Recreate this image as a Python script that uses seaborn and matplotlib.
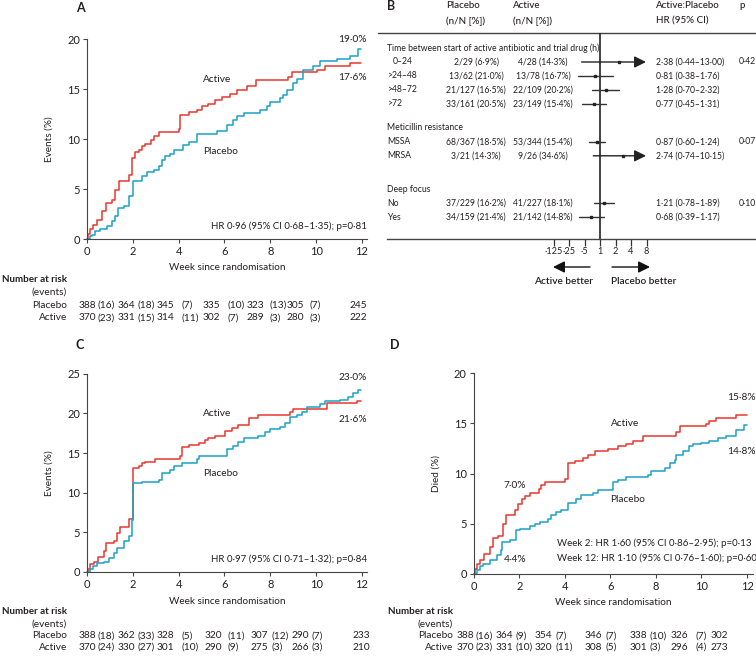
import matplotlib
matplotlib.use("Agg")
import matplotlib.pyplot as plt
from matplotlib import transforms
from matplotlib.ticker import NullLocator
import numpy as np
import pandas as pd
import seaborn as sns

# ---------------- data ----------------
weeks_ticks = [0, 2, 4, 6, 8, 10, 12]

# Panel A: events (%)
a_active_t = [0, 0.03, 0.12, 0.26, 0.44, 0.65, 0.84, 1.09, 1.23, 1.38, 1.82, 1.96, 2.11, 2.25, 2.40, 2.54,
              2.79, 2.93, 3.12, 4.0, 4.07, 4.43, 4.79, 5.01, 5.26, 5.59, 5.88, 6.25, 6.54, 6.97, 7.37,
              8.79, 8.93, 10.02, 10.39, 11.48, 11.94]
a_active_y = [0, 0.5, 1.0, 1.4, 1.9, 2.8, 3.6, 3.9, 4.9, 5.8, 6.4, 8.1, 8.7, 8.9, 9.3, 9.5,
              9.9, 10.3, 10.7, 11.0, 12.4, 12.7, 12.9, 13.3, 13.5, 13.9, 14.2, 14.5, 14.9, 15.3, 15.9,
              16.2, 16.7, 16.9, 17.3, 17.6, 17.6]
a_placebo_t = [0, 0.12, 0.22, 0.36, 0.58, 0.87, 1.09, 1.23, 1.34, 1.6, 1.82, 1.99, 2.40, 2.62, 2.91, 3.12,
               3.27, 3.41, 3.63, 3.78, 4.21, 4.43, 4.79, 5.67, 6.10, 6.39, 6.54, 6.83, 7.55, 7.85, 7.99,
               8.43, 8.57, 8.72, 9.0, 9.15, 9.44, 9.88, 10.17, 10.9, 11.48, 11.84, 11.94]
a_placebo_y = [0, 0.3, 0.4, 0.8, 1.0, 1.3, 1.8, 2.3, 3.1, 3.3, 4.3, 5.8, 6.3, 6.7, 6.9, 7.3,
               7.9, 8.3, 8.5, 8.9, 9.4, 9.7, 10.5, 10.8, 11.4, 11.9, 12.3, 12.6, 12.9, 13.3, 13.7,
               14.1, 14.4, 14.9, 15.6, 16.0, 16.9, 17.3, 17.8, 18.0, 18.3, 19.0, 19.0]

# Panel C: events (%)
c_active_t = [0, 0.03, 0.15, 0.32, 0.46, 0.73, 0.84, 1.16, 1.31, 1.42, 1.82, 2.0, 2.25, 2.40, 2.54, 2.98,
              4.07, 4.14, 4.43, 4.87, 5.16, 5.30, 5.59, 6.03, 6.32, 6.61, 7.05, 7.48, 8.86, 9.01, 10.46,
              11.77, 11.94]
c_active_y = [0, 0.4, 1.0, 1.3, 1.9, 2.7, 3.6, 3.9, 4.9, 5.7, 6.7, 13.1, 13.4, 13.7, 13.9, 14.3,
              14.6, 15.7, 16.0, 16.3, 16.7, 16.9, 17.2, 17.8, 18.1, 18.5, 19.4, 19.8, 20.2, 20.6, 21.3,
              21.6, 21.6]
c_placebo_t = [0, 0.15, 0.26, 0.44, 0.73, 0.94, 1.16, 1.31, 1.60, 1.82, 1.96, 2.0, 2.40, 3.12, 3.27, 3.63,
               3.78, 4.14, 4.79, 4.87, 6.10, 6.39, 6.61, 6.83, 7.48, 7.77, 7.99, 8.43, 8.64, 8.86, 9.15,
               9.37, 9.59, 10.17, 10.39, 11.04, 11.4, 11.62, 11.84, 11.94]
c_placebo_y = [0, 0.4, 0.8, 1.1, 1.3, 1.8, 2.4, 3.0, 3.9, 4.5, 6.6, 11.2, 11.4, 11.6, 12.5, 12.9,
               13.4, 13.8, 14.3, 14.6, 15.5, 15.9, 16.4, 16.9, 17.2, 17.6, 18.0, 18.3, 18.8, 19.5, 19.8,
               20.2, 20.8, 21.2, 21.5, 21.7, 22.1, 22.6, 23.0, 23.0]

# Panel D: died (%)
d_active_t = [0, 0.04, 0.15, 0.26, 0.45, 0.70, 0.85, 1.07, 1.29, 1.43, 1.83, 1.94, 2.12, 2.27, 2.46, 2.85,
              2.97, 3.11, 3.99, 4.14, 4.43, 4.80, 5.01, 5.31, 5.89, 6.33, 6.70, 6.99, 7.43, 8.89, 9.04,
              10.2, 10.35, 10.64, 11.52, 12.0]
d_active_y = [0, 0.5, 1.0, 1.4, 2.0, 2.7, 3.6, 3.8, 5.0, 5.9, 6.4, 7.0, 7.5, 7.8, 8.1, 8.5,
              8.9, 9.2, 9.5, 11.0, 11.2, 11.5, 11.8, 12.2, 12.4, 12.7, 12.9, 13.2, 13.7, 14.1, 14.7,
              14.9, 15.2, 15.5, 15.8, 15.8]
d_placebo_t = [0, 0.16, 0.26, 0.41, 0.70, 1.04, 1.18, 1.24, 1.58, 1.87, 2.02, 2.46, 2.68, 2.89, 3.26, 3.41,
               3.63, 3.85, 4.14, 4.50, 4.72, 5.23, 5.45, 6.11, 6.33, 6.70, 7.65, 7.79, 8.38, 8.60, 8.82,
               8.89, 9.18, 9.47, 9.62, 9.99, 10.35, 10.72, 11.08, 11.52, 11.89, 12.0]
d_placebo_y = [0, 0.4, 0.8, 1.0, 1.4, 1.9, 2.4, 3.2, 3.4, 4.4, 4.5, 4.8, 5.0, 5.2, 5.5, 5.9,
               6.2, 6.4, 7.1, 7.5, 7.9, 8.1, 8.4, 9.2, 9.4, 9.7, 9.9, 10.2, 10.5, 11.0, 11.3,
               11.8, 12.2, 12.7, 12.9, 13.0, 13.2, 13.5, 13.7, 14.3, 14.8, 14.8]

# numbers at risk (events)
a_risk_placebo = [388, 364, 345, 335, 323, 305, 245]
a_events_placebo = [16, 18, 7, 10, 13, 7]
a_risk_active = [370, 331, 314, 302, 289, 280, 222]
a_events_active = [23, 15, 11, 7, 3, 3]
c_risk_placebo = [388, 362, 328, 320, 307, 290, 233]
c_events_placebo = [18, 33, 5, 11, 12, 7]
c_risk_active = [370, 330, 301, 290, 275, 266, 210]
c_events_active = [24, 27, 10, 9, 3, 3]
d_risk_placebo = [388, 364, 354, 346, 338, 326, 302]
d_events_placebo = [16, 9, 7, 7, 10, 7]
d_risk_active = [370, 331, 320, 308, 301, 296, 273]
d_events_active = [23, 10, 11, 5, 3, 4]

# Panel B: forest plot
groups = ["Time between start of active antibiotic and trial drug (h)", "Meticillin resistance", "Deep focus"]
sub_labels = [["0\u201324", ">24\u201348", ">48\u201372", ">72"], ["MSSA", "MRSA"], ["No", "Yes"]]
p_values = ["0\u00b742", "0\u00b707", "0\u00b710"]
placebo_n = [2, 13, 21, 33, 68, 3, 37, 34]
placebo_N = [29, 62, 127, 161, 367, 21, 229, 159]
active_n = [4, 13, 22, 23, 53, 9, 41, 21]
active_N = [28, 78, 109, 149, 344, 26, 227, 142]
hr = [2.38, 0.81, 1.28, 0.77, 0.87, 2.74, 1.21, 0.68]
hr_lo = [0.44, 0.38, 0.70, 0.45, 0.60, 0.74, 0.78, 0.39]
hr_hi = [13.00, 1.76, 2.32, 1.31, 1.24, 10.15, 1.89, 1.17]
hr_ticks = [0.125, 0.25, 0.5, 1, 2, 4, 8]
hr_ticklabels = ["\u00b7125", "\u00b725", "\u00b75", "1", "2", "4", "8"]

# ---------------- style ----------------
sns.set_style("ticks")
plt.rcParams["font.family"] = ["Lato", "DejaVu Sans"]
RED = "#e8372f"
BLUE = "#1ba0c8"
INK = "#231f20"
FS = 7.0      # annotations / labels
FT = 7.3      # risk tables
FB = 6.2      # forest rows

W, H = 756, 658


def fx(px):
    return px / W


def fy(py):
    return 1 - py / H


def dot(v, nd=2):
    return f"{v:.{nd}f}".replace(".", "\u00b7")


fig = plt.figure(figsize=(7.56, 6.58), dpi=100)


def km_panel(left, end, x12, top, bottom, ymax, ystep, ylabel, ylab_px, act_t, act_y, pla_t, pla_y):
    ax = fig.add_axes([fx(left), fy(bottom), (end - left) / W, (bottom - top) / H])
    df = pd.concat([
        pd.DataFrame({"week": act_t, "pct": act_y, "arm": "Active"}),
        pd.DataFrame({"week": pla_t, "pct": pla_y, "arm": "Placebo"}),
    ])
    sns.lineplot(data=df, x="week", y="pct", hue="arm", palette={"Active": RED, "Placebo": BLUE},
                 estimator=None, drawstyle="steps-post", legend=False, lw=1.1, ax=ax, clip_on=False)
    ax.set_xlim(0, 12 * (end - left) / (x12 - left))
    ax.set_ylim(0, ymax)
    ax.set_xticks(weeks_ticks)
    ax.set_yticks(np.arange(0, ymax + 1, ystep))
    sns.despine(ax=ax)
    for s in ["left", "bottom"]:
        ax.spines[s].set_color("#444444")
        ax.spines[s].set_linewidth(0.8)
    ax.tick_params(length=3, width=0.8, color="#444444", labelsize=8, labelcolor=INK, pad=2)
    ax.set_xlabel("Week since randomisation", fontsize=FS + 0.2, color=INK)
    ax.xaxis.label.set_va("center")
    ax.xaxis.set_label_coords(0.5, -29 / (bottom - top))
    ax.set_ylabel(ylabel, fontsize=FS + 0.2, color=INK)
    ax.yaxis.label.set_va("center")
    ax.yaxis.set_label_coords((ylab_px - left) / (end - left), 0.5)
    return ax


def risk_table(label_right, ys, num_x, ev_x, rp, ep, ra, ea):
    fig.text(fx(label_right), fy(ys[0]), "Number at risk", ha="right", va="center", fontsize=FT - 0.2,
             fontweight="bold", color=INK)
    fig.text(fx(label_right), fy(ys[1]), "(events)", ha="right", va="center", fontsize=FT, color=INK)
    for name, y, risk, ev in [("Placebo", ys[2], rp, ep), ("Active", ys[3], ra, ea)]:
        fig.text(fx(label_right), fy(y), name, ha="right", va="center", fontsize=FT, color=INK)
        for i, n in enumerate(risk):
            fig.text(fx(num_x[i]), fy(y), str(n), ha="left", va="center", fontsize=FT, color=INK)
        for i, e in enumerate(ev):
            fig.text(fx(ev_x[i]), fy(y), f"({e})", ha="left", va="center", fontsize=FT, color=INK)


def t(px, py, s, **kw):
    kw.setdefault("fontsize", FS)
    kw.setdefault("color", INK)
    kw.setdefault("va", "center")
    fig.text(fx(px), fy(py), s, **kw)


# ---------------- Panel A ----------------
km_panel(87, 367, 362, 39, 239, 20, 5, "Events (%)", 49, a_active_t, a_active_y, a_placebo_t, a_placebo_y)
t(76, 8, "A", fontsize=9, fontweight="bold")
t(217, 79, "Active", ha="center", fontsize=FS + 0.3)
t(221, 152, "Placebo", ha="center", fontsize=FS + 0.3)
t(367, 40, f"{dot(a_placebo_y[-1], 1)}%", ha="right", fontsize=FS + 0.3)
t(367, 78, f"{dot(a_active_y[-1], 1)}%", ha="right", fontsize=FS + 0.3)
t(367, 226, "HR 0\u00b796 (95% CI 0\u00b768\u20131\u00b735); p=0\u00b781", ha="right")
risk_table(67, [279, 292, 305, 318], [79, 118, 157, 203, 247, 287, 350], [98, 138, 182, 227, 270, 310],
           a_risk_placebo, a_events_placebo, a_risk_active, a_events_active)

# ---------------- Panel C ----------------
km_panel(87, 367, 362, 373.7, 572, 25, 5, "Events (%)", 49, c_active_t, c_active_y, c_placebo_t, c_placebo_y)
t(76, 345, "C", fontsize=9, fontweight="bold")
t(217, 414, "Active", ha="center", fontsize=FS + 0.3)
t(221, 474, "Placebo", ha="center", fontsize=FS + 0.3)
t(367, 377, f"{dot(c_placebo_y[-1], 1)}%", ha="right", fontsize=FS + 0.3)
t(367, 419, f"{dot(c_active_y[-1], 1)}%", ha="right", fontsize=FS + 0.3)
t(367, 559, "HR 0\u00b797 (95% CI 0\u00b771\u20131\u00b732); p=0\u00b784", ha="right")
risk_table(67, [612, 624, 636, 647], [79, 118, 157, 205, 251, 292, 353], [98, 138, 182, 227, 272, 312],
           c_risk_placebo, c_events_placebo, c_risk_active, c_events_active)

# ---------------- Panel D ----------------
km_panel(473.7, 753, 747, 373.3, 573.7, 20, 5, "Died (%)", 436, d_active_t, d_active_y, d_placebo_t, d_placebo_y)
t(390, 345, "D", fontsize=9, fontweight="bold")
t(625, 423, "Active", ha="center", fontsize=FS + 0.3)
t(628, 499, "Placebo", ha="center", fontsize=FS + 0.3)
t(515, 485, "7\u00b70%", ha="center", fontsize=FS + 0.3)
t(515, 560, "4\u00b74%", ha="center", fontsize=FS + 0.3)
t(756, 397, f"{dot(d_active_y[-1], 1)}%", ha="right", fontsize=FS + 0.3)
t(756, 452, f"{dot(d_placebo_y[-1], 1)}%", ha="right", fontsize=FS + 0.3)
t(557, 543, "Week 2: HR 1\u00b760 (95% CI 0\u00b786\u20132\u00b795); p=0\u00b713", ha="left")
t(557, 558, "Week 12: HR 1\u00b710 (95% CI 0\u00b776\u20131\u00b760); p=0\u00b760", ha="left")
risk_table(453, [612, 624, 636, 647], [457, 496, 535, 585, 630, 671, 711], [476, 516, 556, 605, 650, 695],
           d_risk_placebo, d_events_placebo, d_risk_active, d_events_active)

# ---------------- Panel B (forest) ----------------
ROW0, ROWH = 48, 14
X1, OCT = 600, 15.5


def row(py):
    return (py - ROW0) / ROWH


def hr_at(px):
    return 2 ** ((px - X1) / OCT)


fa = fig.add_axes([fx(378), fy(300), 378 / W, 300 / H])
fa.set_xscale("log", base=2)
fa.set_xlim(hr_at(378), hr_at(756))
fa.set_ylim(row(300), row(0))
for s in ["left", "right", "top"]:
    fa.spines[s].set_visible(False)
fa.spines["bottom"].set_position(("data", row(239)))
fa.spines["bottom"].set_bounds(hr_at(387), hr_at(756))
fa.spines["bottom"].set_color("#444444")
fa.spines["bottom"].set_linewidth(1.0)
fa.set_xticks(hr_ticks)
fa.set_xticklabels(hr_ticklabels)
fa.xaxis.set_minor_locator(NullLocator())
fa.set_yticks([])
fa.tick_params(axis="x", length=5, width=0.9, color="#333333", labelsize=6.6, labelcolor=INK, pad=1)
fa.axhline(row(33), color="#444444", lw=1.0, clip_on=False)
fa.vlines(1, row(33), row(239), color="#222222", lw=1.2)
fa.patch.set_alpha(0)

tb = transforms.blended_transform_factory(fig.transFigure, fa.transData)

# header
t(387, 6, "B", fontsize=9, fontweight="bold")
for px, l1, l2 in [(446, "Placebo", "(n/N [%])"), (513, "Active", "(n/N [%])"),
                   (656, "Active:Placebo", "HR (95% CI)")]:
    t(px, 6, l1, fontsize=7.0, fontweight="medium")
    t(px, 21, l2, fontsize=7.0, fontweight="medium")
t(739, 6, "p", fontsize=7.0, fontweight="medium")

y = 0.0
k = 0
gaps = [0.7, 1.4, 0]
for g, gname in enumerate(groups):
    fa.text(fx(387), y, gname, transform=tb, fontsize=FB, va="center", color=INK)
    y += 1
    for j, lab in enumerate(sub_labels[g]):
        lx = 393 if lab.startswith("0") else 387
        fa.text(fx(lx), y, lab, transform=tb, fontsize=FB, va="center", color=INK)
        fa.text(fx(476), y, f"{placebo_n[k]}/{placebo_N[k]} ({dot(100 * placebo_n[k] / placebo_N[k], 1)}%)",
                transform=tb, fontsize=FB, va="center", ha="center", color=INK)
        fa.text(fx(543), y, f"{active_n[k]}/{active_N[k]} ({dot(100 * active_n[k] / active_N[k], 1)}%)",
                transform=tb, fontsize=FB, va="center", ha="center", color=INK)
        fa.text(fx(656), y, f"{dot(hr[k])} ({dot(hr_lo[k])}\u2013{dot(hr_hi[k])})",
                transform=tb, fontsize=FB, va="center", color=INK)
        if j == 0:
            fa.text(fx(739), y, p_values[g], transform=tb, fontsize=FB, va="center", color=INK)
        if hr_hi[k] > 8:
            fa.annotate("", xy=(hr_at(646), y), xytext=(hr_lo[k], y),
                        arrowprops=dict(arrowstyle="-|>,head_length=0.7,head_width=0.35", color="#222222",
                                        lw=1.0, shrinkA=0, shrinkB=0, mutation_scale=10))
        else:
            fa.plot([hr_lo[k], hr_hi[k]], [y, y], color="#333333", lw=1.0)
        fa.plot([hr[k]], [y], marker="s", ms=2, color="#222222")
        y += 1
        k += 1
    y += gaps[g]

# direction arrows
fa.annotate("", xy=(hr_at(553), row(267)), xytext=(hr_at(590), row(267)), annotation_clip=False,
            arrowprops=dict(arrowstyle="-|>,head_length=0.7,head_width=0.35", color="#111111", lw=1.0,
                            shrinkA=0, shrinkB=0, mutation_scale=10))
fa.annotate("", xy=(hr_at(650), row(267)), xytext=(hr_at(612), row(267)), annotation_clip=False,
            arrowprops=dict(arrowstyle="-|>,head_length=0.7,head_width=0.35", color="#111111", lw=1.0,
                            shrinkA=0, shrinkB=0, mutation_scale=10))
t(564, 282, "Active better", ha="center", fontsize=7.3, fontweight="semibold")
t(644, 282, "Placebo better", ha="center", fontsize=7.3, fontweight="semibold")

fig.savefig("out.png", dpi=100)
